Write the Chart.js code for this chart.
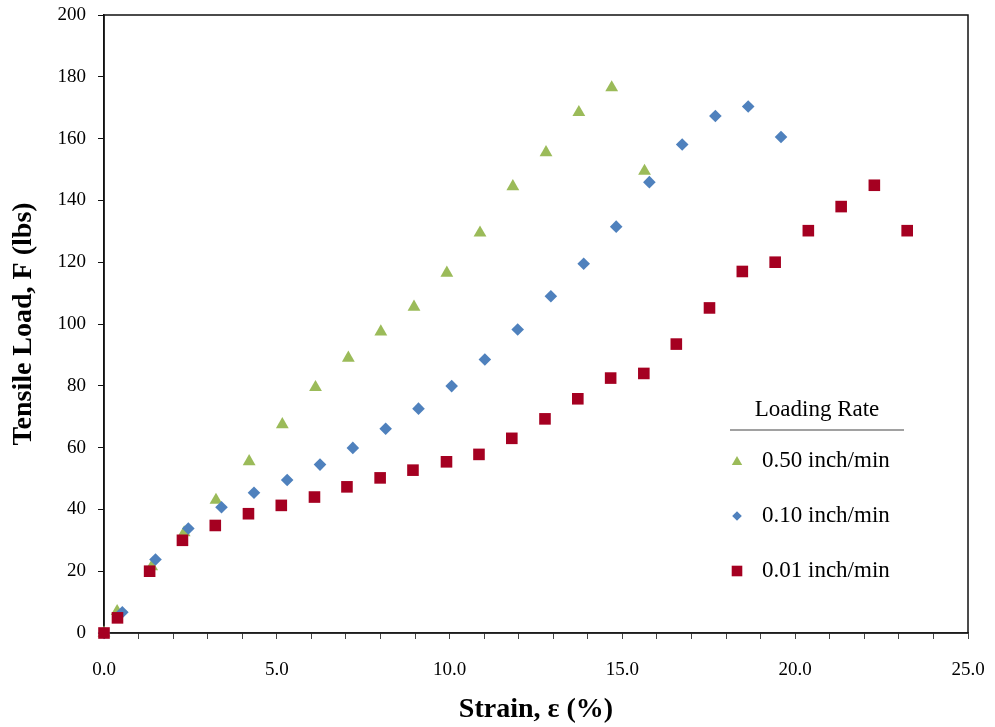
<!DOCTYPE html>
<html>
<head>
<meta charset="utf-8">
<script src="https://cdn.jsdelivr.net/npm/chart.js"></script>
<style>
  html, body { margin: 0; padding: 0; background: #fff; }
  #wrap { width: 995px; height: 727px; }
</style>
</head>
<body>
<div id="wrap"><canvas id="tensileChart" width="995" height="727"></canvas></div>
<script>
// strain (%) and tensile load (lbs) for each loading rate
const strainFast = [0, 0.38, 1.38, 2.32, 3.24, 4.20, 5.16, 6.12, 7.07, 8.01, 8.97, 9.92, 10.88, 11.83, 12.79, 13.74, 14.69, 15.64];
const loadFast = [0, 7, 21.5, 32.5, 43, 55.5, 67.5, 79.5, 89, 97.5, 105.5, 116.5, 129.5, 144.5, 155.5, 168.5, 176.5, 149.5];

const strainMid = [0, 0.53, 1.49, 2.44, 3.40, 4.34, 5.30, 6.25, 7.20, 8.15, 9.10, 10.06, 11.02, 11.97, 12.93, 13.88, 14.82, 15.78, 16.73, 17.69, 18.64, 19.59];
const loadMid = [0, 6.7, 23.8, 33.8, 40.7, 45.4, 49.5, 54.5, 59.9, 66.1, 72.6, 79.9, 88.5, 98.2, 109, 119.5, 131.5, 145.9, 158.1, 167.3, 170.4, 160.5];

const strainSlow = [0, 0.39, 1.32, 2.27, 3.22, 4.18, 5.13, 6.09, 7.03, 7.99, 8.94, 9.91, 10.85, 11.80, 12.76, 13.71, 14.66, 15.62, 16.56, 17.52, 18.47, 19.42, 20.38, 21.33, 22.29, 23.24];
const loadSlow = [0, 4.9, 20, 30, 34.8, 38.6, 41.3, 44, 47.3, 50.2, 52.7, 55.4, 57.8, 63, 69.3, 75.8, 82.5, 84, 93.5, 105.2, 117, 120, 130.2, 138, 144.9, 130.2];

const rateLabels = ["0.50 inch/min", "0.10 inch/min", "0.01 inch/min"];
const legendTitle = "Loading Rate";

const serif = '"Liberation Serif", "Times New Roman", serif';

function toPoints(xs, ys) {
  return xs.map((x, i) => ({ x: x, y: ys[i] }));
}

// frame around the plot, drawn under the markers
const frame = {
  id: "frame",
  beforeDatasetsDraw(chart) {
    const { ctx, chartArea: a } = chart;
    ctx.save();
    ctx.strokeStyle = "#111";
    ctx.lineWidth = 1.5;
    ctx.strokeRect(a.left, a.top, a.right - a.left, a.bottom - a.top);
    ctx.restore();
  }
};

// legend box with an underlined title, sits inside the plot
const rateLegend = {
  id: "rateLegend",
  afterDatasetsDraw(chart) {
    const ctx = chart.ctx;
    const legendSizes = [6, 4.8, 7.5];
    ctx.save();
    ctx.fillStyle = "#000";
    ctx.font = "23px " + serif;
    ctx.textAlign = "center";
    ctx.textBaseline = "middle";
    ctx.fillText(legendTitle, 817, 410);

    ctx.strokeStyle = "#444";
    ctx.lineWidth = 1.2;
    ctx.beginPath();
    ctx.moveTo(730, 430);
    ctx.lineTo(904, 430);
    ctx.stroke();

    chart.data.datasets.forEach((ds, i) => {
      const y = 461 + i * 55;
      ctx.fillStyle = ds.backgroundColor;
      ctx.strokeStyle = ds.backgroundColor;
      Chart.helpers.drawPoint(ctx, {
        pointStyle: ds.pointStyle,
        radius: legendSizes[i],
        rotation: 0,
        borderWidth: 0
      }, 737, i === 0 ? y + 1 : y);
      ctx.fillStyle = "#000";
      ctx.textAlign = "left";
      ctx.fillText(ds.label, 762, y);
    });
    ctx.restore();
  }
};

const ctx = document.getElementById("tensileChart").getContext("2d");
const tensileChart = new Chart(ctx, {
  type: "scatter",
  data: {
    datasets: [
      {
        label: rateLabels[0],
        data: toPoints(strainFast, loadFast),
        pointStyle: "triangle",
        pointRadius: 7.4,
        backgroundColor: "#9BBB59",
        borderColor: "#9BBB59",
        borderWidth: 0,
        clip: false,
        order: 2
      },
      {
        label: rateLabels[1],
        data: toPoints(strainMid, loadMid),
        pointStyle: "rectRot",
        pointRadius: 6.3,
        backgroundColor: "#4F81BD",
        borderColor: "#4F81BD",
        borderWidth: 0,
        clip: false,
        order: 1
      },
      {
        label: rateLabels[2],
        data: toPoints(strainSlow, loadSlow),
        pointStyle: "rect",
        pointRadius: 8.2,
        backgroundColor: "#A50021",
        borderColor: "#A50021",
        borderWidth: 0,
        clip: false,
        order: 0
      }
    ]
  },
  options: {
    responsive: false,
    animation: false,
    layout: { padding: { left: 0, top: 15, right: 27, bottom: 0 } },
    plugins: {
      legend: { display: false },
      tooltip: { enabled: false }
    },
    scales: {
      x: {
        type: "linear",
        min: 0,
        max: 25,
        afterFit(scale) {
          scale.height = 94;
          scale.paddingLeft = 0;
          scale.paddingRight = 0;
        },
        border: { display: true, color: "#444", width: 1.5 },
        grid: { drawOnChartArea: false, drawTicks: true, tickLength: 6, tickColor: "#444" },
        ticks: {
          stepSize: 1,
          autoSkip: false,
          maxRotation: 0,
          padding: 20,
          color: "#000",
          font: { family: serif, size: 19 },
          callback: (v) => (v % 5 === 0 ? v.toFixed(1) : "")
        },
        title: {
          display: true,
          text: "Strain, ε (%)",
          color: "#000",
          font: { family: serif, size: 28, weight: "bold" },
          padding: { top: 0, bottom: 0 }
        }
      },
      y: {
        type: "linear",
        min: 0,
        max: 200,
        afterFit(scale) {
          scale.width = 104;
          scale.paddingTop = 0;
          scale.paddingBottom = 0;
        },
        border: { display: true, color: "#111", width: 1.5 },
        grid: { drawOnChartArea: false, drawTicks: true, tickLength: 6, tickColor: "#111" },
        ticks: {
          stepSize: 20,
          padding: 12,
          color: "#000",
          font: { family: serif, size: 19 }
        },
        title: {
          display: true,
          text: "Tensile Load, F (lbs)",
          color: "#000",
          font: { family: serif, size: 28, weight: "bold" },
          padding: { top: 7, bottom: 0 }
        }
      }
    }
  },
  plugins: [frame, rateLegend]
});
</script>
</body>
</html>
